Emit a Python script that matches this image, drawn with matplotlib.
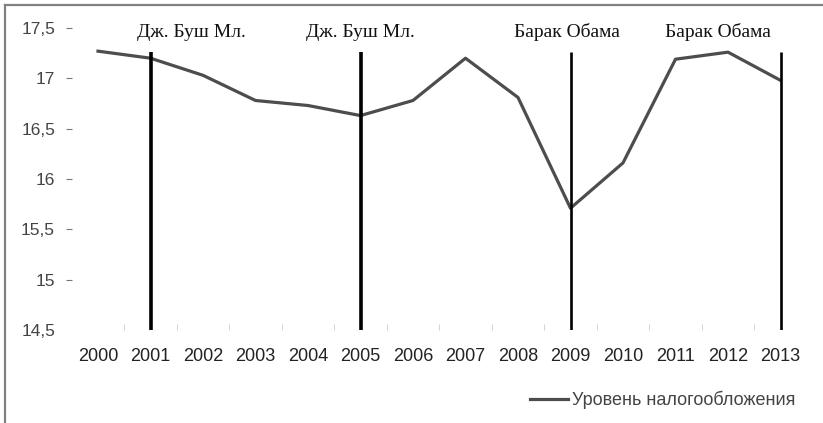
import matplotlib.pyplot as plt
from matplotlib.lines import Line2D

years = ['2000', '2001', '2002', '2003', '2004', '2005', '2006',
         '2007', '2008', '2009', '2010', '2011', '2012', '2013']
tax_level = [17.27, 17.20, 17.03, 16.78, 16.73, 16.63, 16.78,
             17.20, 16.81, 15.71, 16.16, 17.19, 17.26, 16.98]
event_years = ['2001', '2005', '2009', '2013']
event_labels = ['Дж. Буш Мл.', 'Дж. Буш Мл.', 'Барак Обама', 'Барак Обама']
y_ticks = [14.5, 15, 15.5, 16, 16.5, 17, 17.5]
y_tick_labels = ['14,5', '15', '15,5', '16', '16,5', '17', '17,5']

W, H = 823, 423
fig = plt.figure(figsize=(W / 100, H / 100), dpi=100)
ax = fig.add_axes([71.75 / W, (H - 330) / H, 735 / W, 302 / H])

x = list(range(len(years)))
ax.plot(x, tax_level, color='#4d4d4d', lw=2.3, label='Уровень налогообложения',
        solid_joinstyle='round')

# vertical marker lines for presidential terms
line_w = [2.6, 2.6, 1.9, 1.9]
label_x = [1.77, 4.99, 8.93, 11.81]
for yr, lab, lw, lx in zip(event_years, event_labels, line_w, label_x):
    xi = years.index(yr)
    ax.plot([xi, xi], [14.5, 17.26], color='black', lw=lw, solid_capstyle='butt')
    ax.text(lx, 17.46, lab, ha='center', va='center', fontsize=14,
            family='Liberation Serif', color='#111111', clip_on=False)

ax.set_xlim(-0.5, len(years) - 0.5)
ax.set_ylim(14.5, 17.5)
ax.set_xticks(x)
ax.set_xticklabels(years, fontsize=13, family='Liberation Sans', color='#222222')
ax.set_xticks([i + 0.5 for i in range(len(years) - 1)], minor=True)
ax.tick_params(axis='x', which='major', length=0, pad=13)
ax.tick_params(axis='x', which='minor', length=4, color='#cccccc', direction='in')
ax.set_yticks(y_ticks)
ax.set_yticklabels(y_tick_labels, fontsize=12.5, family='Liberation Sans', color='#444444')
ax.tick_params(axis='y', length=4, color='#777777', pad=8)
ax.yaxis.get_major_ticks()[0].tick1line.set_visible(False)
for s in ax.spines.values():
    s.set_visible(False)

fig.legend(loc='center right', bbox_to_anchor=(812 / W, 1 - 400 / H), frameon=False,
           prop={'family': 'Liberation Sans', 'size': 13}, labelcolor='#444444',
           handlelength=2.1, handletextpad=0.25)

# frame of the picture (left and top edges only)
fig.add_artist(Line2D([5 / W, 5 / W], [0, 1 - 5 / H], color='#808080', lw=1.6,
                      transform=fig.transFigure))
fig.add_artist(Line2D([5 / W, 1], [1 - 5 / H, 1 - 5 / H], color='#808080', lw=1.6,
                      transform=fig.transFigure))

fig.savefig('out.png', dpi=100)
